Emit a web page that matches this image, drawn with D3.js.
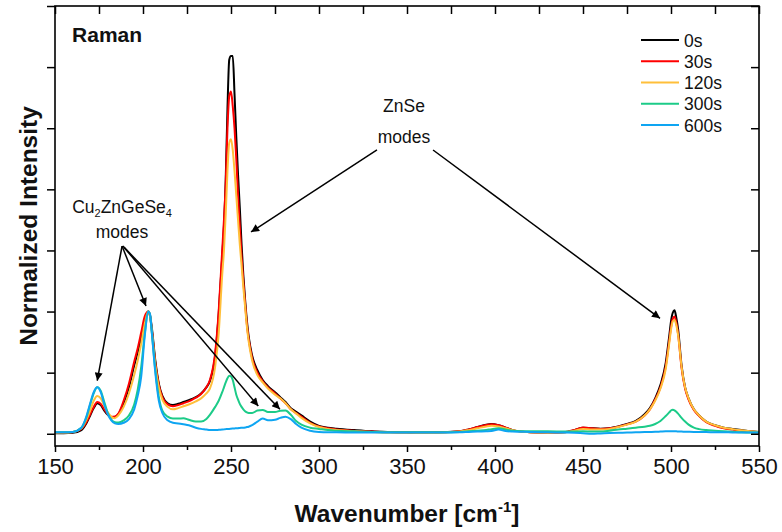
<!DOCTYPE html>
<html><head><meta charset="utf-8">
<script src="https://cdn.jsdelivr.net/npm/d3@7"></script>
<style>body{margin:0;background:#fff}svg{display:block}text{font-family:"Liberation Sans",Arial,sans-serif}</style>
</head><body><svg id="c" width="782" height="532"></svg>
<script>
const wavenumbers = [150,155,160,165,168,170,172,174,176,178,180,182,184,186,
 189,192,195,197,199,201,203,
 204,205,207,209,211,214,217,220,223,226,230,233,236,238,
 241,243,245,246,247,248,249,250,251,252,253,254,255,256,257,258,259,260,
 262,265,268,271,275,278,281,284,287,290,295,300,305,310,320,
 330,340,350,360,370,380,385,390,395,398,402,406,410,420,430,440,
 445,450,455,460,465,470,475,480,485,488,491,494,497,499,
 500,501,502,503,504,506,508,510,513,516,520,525,530,535,540,545,550];

const s0 = [0.005,0.005,0.008,0.03,0.09,0.15,0.21,0.25,0.235,0.19,0.155,0.135,0.137,0.16,
 0.25,0.38,0.56,0.67,0.79,0.93,1.0,
 0.97,0.87,0.6,0.41,0.31,0.25,0.235,0.245,0.26,0.275,0.30,0.33,0.38,0.43,
 0.64,0.98,1.45,1.7,2.08,2.66,3.06,3.09,3.09,2.78,2.43,2.12,1.85,1.55,1.3,1.1,0.93,0.8,
 0.64,0.52,0.44,0.39,0.34,0.3,0.26,0.21,0.18,0.15,0.1,0.065,0.05,0.042,0.03,
 0.02,0.015,0.012,0.01,0.012,0.02,0.035,0.055,0.075,0.08,0.07,0.05,0.03,0.012,0.008,0.012,
 0.03,0.05,0.045,0.042,0.046,0.06,0.08,0.105,0.16,0.21,0.29,0.4,0.58,0.8,
 0.92,0.99,1.01,0.95,0.86,0.56,0.38,0.29,0.2,0.15,0.1,0.07,0.05,0.04,0.03,0.02,0.015];

const s30 = [0.008,0.008,0.012,0.04,0.1,0.16,0.22,0.26,0.245,0.2,0.16,0.14,0.142,0.165,
 0.27,0.41,0.59,0.7,0.83,0.96,1.0,
 0.96,0.85,0.58,0.4,0.3,0.24,0.225,0.235,0.25,0.265,0.295,0.325,0.38,0.44,
 0.66,1.0,1.5,1.75,2.05,2.5,2.76,2.8,2.68,2.5,2.25,1.95,1.7,1.45,1.25,1.07,0.9,0.78,
 0.62,0.5,0.43,0.38,0.33,0.29,0.25,0.2,0.17,0.14,0.09,0.06,0.045,0.035,0.025,
 0.018,0.012,0.01,0.008,0.012,0.02,0.035,0.055,0.072,0.078,0.07,0.05,0.03,0.012,0.008,0.015,
 0.03,0.052,0.045,0.04,0.045,0.058,0.077,0.1,0.15,0.2,0.28,0.38,0.55,0.76,
 0.87,0.94,0.96,0.91,0.82,0.54,0.37,0.28,0.195,0.145,0.095,0.065,0.045,0.035,0.025,0.018,0.012];

const s120 = [0.01,0.01,0.015,0.045,0.12,0.19,0.27,0.31,0.29,0.23,0.175,0.14,0.128,0.15,
 0.22,0.33,0.48,0.6,0.74,0.9,1.0,
 0.96,0.84,0.56,0.38,0.28,0.22,0.2,0.21,0.225,0.24,0.265,0.29,0.33,0.37,
 0.55,0.82,1.3,1.5,1.8,2.15,2.38,2.41,2.32,2.15,1.95,1.75,1.55,1.38,1.2,1.04,0.88,0.76,
 0.6,0.48,0.42,0.37,0.32,0.29,0.25,0.2,0.165,0.13,0.085,0.055,0.04,0.03,0.02,
 0.015,0.01,0.01,0.008,0.01,0.018,0.03,0.045,0.06,0.065,0.06,0.045,0.03,0.012,0.008,0.012,
 0.025,0.04,0.035,0.035,0.04,0.055,0.075,0.1,0.15,0.2,0.27,0.37,0.53,0.74,
 0.85,0.92,0.93,0.89,0.81,0.55,0.38,0.29,0.2,0.15,0.1,0.07,0.05,0.038,0.028,0.02,0.014];

const s300 = [0.012,0.012,0.015,0.05,0.14,0.24,0.33,0.38,0.35,0.26,0.17,0.115,0.095,0.092,
 0.11,0.15,0.24,0.36,0.55,0.82,1.0,
 0.97,0.83,0.52,0.3,0.19,0.14,0.125,0.125,0.127,0.115,0.1,0.1,0.12,0.155,
 0.22,0.27,0.34,0.38,0.42,0.455,0.474,0.47,0.44,0.38,0.32,0.28,0.245,0.22,0.2,0.185,0.175,0.17,
 0.17,0.19,0.195,0.178,0.178,0.188,0.19,0.155,0.105,0.075,0.05,0.04,0.03,0.025,0.02,
 0.015,0.012,0.012,0.012,0.012,0.015,0.02,0.025,0.03,0.038,0.045,0.035,0.025,0.02,0.02,0.018,
 0.018,0.02,0.018,0.018,0.025,0.035,0.042,0.05,0.058,0.065,0.08,0.105,0.145,0.175,
 0.19,0.196,0.192,0.18,0.165,0.13,0.1,0.075,0.05,0.038,0.03,0.025,0.02,0.016,0.012,0.01,0.01];

const s600 = [0.012,0.012,0.015,0.05,0.15,0.25,0.34,0.38,0.34,0.24,0.16,0.11,0.085,0.08,
 0.09,0.12,0.2,0.31,0.47,0.8,1.0,
 0.98,0.83,0.5,0.27,0.17,0.11,0.09,0.085,0.078,0.07,0.05,0.04,0.035,0.03,
 0.03,0.032,0.035,0.036,0.038,0.04,0.04,0.042,0.043,0.044,0.045,0.046,0.048,0.049,0.05,0.052,0.055,0.058,
 0.07,0.1,0.125,0.11,0.115,0.13,0.14,0.12,0.08,0.05,0.025,0.015,0.012,0.012,0.01,
 0.01,0.01,0.01,0.01,0.01,0.012,0.015,0.018,0.02,0.022,0.035,0.022,0.018,0.015,0.012,0.01,
 0.008,0.004,0.0,0.003,0.006,0.008,0.01,0.012,0.014,0.015,0.016,0.018,0.02,0.02,
 0.02,0.02,0.02,0.02,0.019,0.018,0.017,0.016,0.015,0.015,0.014,0.013,0.012,0.011,0.01,0.01,0.01];

const seriesNames = ["0s","30s","120s","300s","600s"];
const seriesColors = ["#000000","#ff0000","#ffbf3a","#1ccb88","#0ea5f2"];
const seriesValues = [s0,s30,s120,s300,s600];
const xTicks = [150,200,250,300,350,400,450,500,550];

const svg = d3.select("#c");
const L=55,R=759,T=6,B=446;
const x = d3.scaleLinear().domain([150,550]).range([L,R]);
const y = d3.scaleLinear().domain([-0.1,3.5]).range([B,T]);
const font = '"Liberation Sans",Arial,sans-serif';

// curves
const line = d3.line().x((d,i)=>x(wavenumbers[i])).y(d=>y(d)).curve(d3.curveMonotoneX);
const plot = svg.append("g");
plot.append("clipPath").attr("id","clp").append("rect").attr("x",L).attr("y",T).attr("width",R-L).attr("height",B-T);
seriesValues.forEach((vals,k)=>{
  plot.append("path").attr("d",line(vals)).attr("fill","none")
    .attr("stroke",seriesColors[k]).attr("stroke-width",2).attr("stroke-linejoin","round")
    .attr("clip-path","url(#clp)");
});

// frame
svg.append("rect").attr("x",L).attr("y",T).attr("width",R-L).attr("height",B-T)
  .attr("fill","none").attr("stroke","#000").attr("stroke-width",1.6);

// axes
const minor = d3.range(150,551,25);
const yT = d3.range(0,3.51,0.5);
const bottom = svg.append("g").attr("transform",`translate(0,${B})`)
  .call(d3.axisBottom(x).tickValues(xTicks).tickSize(6).tickSizeOuter(0).tickPadding(6).tickFormat(d3.format("d")));
bottom.select(".domain").remove();
bottom.selectAll(".tick line").attr("stroke-width",1.5);
bottom.selectAll("text").attr("font-size",22).attr("font-family",font).attr("fill","#111");
svg.append("g").attr("transform",`translate(0,${B})`)
  .call(d3.axisBottom(x).tickValues(minor.filter(v=>v%50)).tickSize(4).tickFormat(""))
  .call(g=>g.select(".domain").remove()).selectAll("line").attr("stroke-width",1.5);
svg.append("g").attr("transform",`translate(0,${T})`)
  .call(d3.axisBottom(x).tickValues(minor).tickSize(8).tickFormat(""))
  .call(g=>g.select(".domain").remove()).selectAll("line").attr("stroke-width",1.5);
svg.append("g").attr("transform",`translate(${L},0)`)
  .call(d3.axisLeft(y).tickValues(yT).tickSize(8).tickFormat(""))
  .call(g=>g.select(".domain").remove()).selectAll("line").attr("stroke-width",1.5);
svg.append("g").attr("transform",`translate(${R},0)`)
  .call(d3.axisRight(y).tickValues(yT).tickSize(-8).tickFormat(""))
  .call(g=>g.select(".domain").remove()).selectAll("line").attr("stroke-width",1.5);

// axis titles
const xl = svg.append("text").attr("x",(L+R)/2).attr("y",522).attr("text-anchor","middle")
  .attr("font-size",24.5).attr("font-weight","bold").attr("fill","#111");
xl.append("tspan").text("Wavenumber [cm");
xl.append("tspan").text("-1").attr("font-size",15).attr("dy",-10);
xl.append("tspan").text("]").attr("dy",10);
svg.append("text").attr("transform",`translate(37,${(T+B)/2}) rotate(-90)`).attr("text-anchor","middle")
  .attr("font-size",24.5).attr("font-weight","bold").attr("fill","#111").text("Normalized Intensity");

svg.append("text").attr("x",x(159.7)).attr("y",y(3.205)).attr("font-size",21).attr("font-weight","bold").attr("fill","#111").text("Raman");

// legend
const lg = svg.append("g");
seriesNames.forEach((n,i)=>{
  const yy = 40 + i*21.25;
  lg.append("line").attr("x1",641).attr("x2",679).attr("y1",yy).attr("y2",yy).attr("stroke",seriesColors[i]).attr("stroke-width",2);
  lg.append("text").attr("x",684).attr("y",yy+6.5).attr("font-size",17.5).attr("fill","#111").text(n);
});

// annotations
svg.append("defs").append("marker").attr("id","ah").attr("viewBox","0 0 10 10").attr("refX",10).attr("refY",5)
  .attr("markerWidth",11).attr("markerHeight",8).attr("markerUnits","userSpaceOnUse").attr("orient","auto")
  .append("path").attr("d","M0,0L10,5L0,10Z").attr("fill","#000");
const arrows = [
  [[332.95,2.322],[261.4,1.651]],
  [[364.8,2.322],[493.75,0.945]],
  [[188.1,1.536],[174.0,0.434]],
  [[188.1,1.536],[201.7,1.045]],
  [[188.6,1.536],[265.5,0.227]],
  [[189.3,1.525],[277.8,0.20]]
];
arrows.forEach(a=>{
  svg.append("line").attr("x1",x(a[0][0])).attr("y1",y(a[0][1])).attr("x2",x(a[1][0])).attr("y2",y(a[1][1]))
    .attr("stroke","#000").attr("stroke-width",1.5).attr("marker-end","url(#ah)");
});
const ann = svg.append("g").attr("font-size",17.5).attr("fill","#111").attr("text-anchor","middle");
ann.append("text").attr("x",x(348.3)).attr("y",y(2.633)).text("ZnSe");
ann.append("text").attr("x",x(348.3)).attr("y",y(2.379)).text("modes");
const cu = ann.append("text").attr("x",x(188.1)).attr("y",y(1.809));
cu.append("tspan").text("Cu");
cu.append("tspan").text("2").attr("font-size",11).attr("dy",4);
cu.append("tspan").text("ZnGeSe").attr("dy",-4);
cu.append("tspan").text("4").attr("font-size",11).attr("dy",4);
ann.append("text").attr("x",x(188.1)).attr("y",y(1.604)).text("modes");
</script></body></html>
